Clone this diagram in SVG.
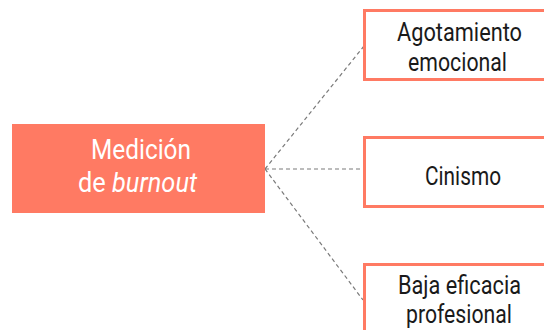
<svg xmlns="http://www.w3.org/2000/svg" width="544" height="330" viewBox="0 0 544 330">
<style>
.box{fill:#fff;stroke:#ff7a63;stroke-width:3}
.main{fill:#ff7a63}
.t{font-family:Roboto,"Liberation Sans",sans-serif;font-size:26px;fill:#1a1a1a}
.w{font-family:Roboto,"Liberation Sans",sans-serif;font-size:27px;fill:#fff}
.c{fill:none;stroke:#7a7a7a;stroke-width:1.2;stroke-dasharray:4 3}
</style>
<g id="connectors">
<line class="c" x1="265" y1="169" x2="364" y2="46"/>
<line class="c" x1="265" y1="169" x2="364" y2="169"/>
<line class="c" x1="265" y1="169" x2="363" y2="300"/>
</g>
<g id="medicion">
<rect class="main" x="12" y="124" width="253" height="89"/>
<text class="w" x="91" y="159" textLength="100" lengthAdjust="spacingAndGlyphs">Medición</text>
<text class="w" x="78" y="192" textLength="119" lengthAdjust="spacingAndGlyphs">de <tspan font-style="italic">burnout</tspan></text>
</g>
<g id="agotamiento">
<rect class="box" x="364.5" y="10.5" width="200" height="69"/>
<text class="t" x="397" y="41" textLength="125" lengthAdjust="spacingAndGlyphs">Agotamiento</text>
<text class="t" x="408" y="71" textLength="99" lengthAdjust="spacingAndGlyphs">emocional</text>
</g>
<g id="cinismo">
<rect class="box" x="364.5" y="137.5" width="200" height="69"/>
<text class="t" x="425" y="185" textLength="76" lengthAdjust="spacingAndGlyphs">Cinismo</text>
</g>
<g id="baja">
<rect class="box" x="364.5" y="264.5" width="200" height="69"/>
<text class="t" x="398" y="294" textLength="123" lengthAdjust="spacingAndGlyphs">Baja eficacia</text>
<text class="t" x="406" y="323" textLength="106" lengthAdjust="spacingAndGlyphs">profesional</text>
</g>
</svg>
